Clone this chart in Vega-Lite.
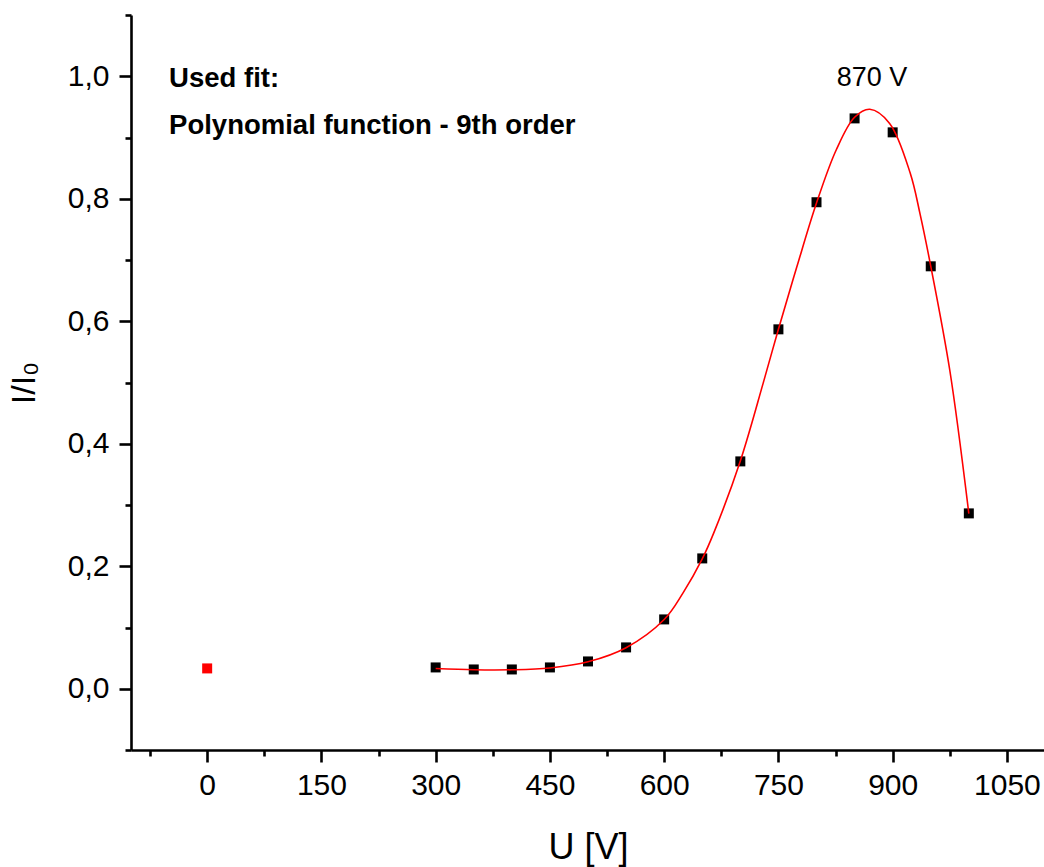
{
  "$schema": "https://vega.github.io/schema/vega-lite/v6.json",
  "autosize": {"type": "none"},
  "padding": {"left": 131, "top": 15, "right": 0, "bottom": 117},
  "width": 914,
  "height": 735,
  "background": "white",
  "config": {
    "view": {"stroke": null},
    "font": "Liberation Sans",
    "axis": {
      "domainColor": "black",
      "domainWidth": 2.6,
      "tickColor": "black",
      "tickWidth": 2.6,
      "grid": false,
      "labelFont": "Liberation Sans",
      "labelFontSize": 30,
      "labelColor": "black",
      "titleFont": "Liberation Sans",
      "titleFontWeight": "normal",
      "titleColor": "black"
    }
  },
  "datasets": {
    "measured": [
      {"U": 0, "ratio": 0.0332, "group": "excluded"},
      {"U": 300, "ratio": 0.0348, "group": "measured"},
      {"U": 350, "ratio": 0.0315, "group": "measured"},
      {"U": 400, "ratio": 0.0315, "group": "measured"},
      {"U": 450, "ratio": 0.0348, "group": "measured"},
      {"U": 500, "ratio": 0.0446, "group": "measured"},
      {"U": 550, "ratio": 0.0675, "group": "measured"},
      {"U": 600, "ratio": 0.1132, "group": "measured"},
      {"U": 650, "ratio": 0.2128, "group": "measured"},
      {"U": 700, "ratio": 0.3712, "group": "measured"},
      {"U": 750, "ratio": 0.5868, "group": "measured"},
      {"U": 800, "ratio": 0.7943, "group": "measured"},
      {"U": 850, "ratio": 0.9312, "group": "measured"},
      {"U": 900, "ratio": 0.9084, "group": "measured"},
      {"U": 950, "ratio": 0.6897, "group": "measured"},
      {"U": 1000, "ratio": 0.2863, "group": "measured"}
    ],
    "fit": [
      {"U": 300, "ratio": 0.033},
      {"U": 350, "ratio": 0.031},
      {"U": 400, "ratio": 0.031},
      {"U": 450, "ratio": 0.034},
      {"U": 500, "ratio": 0.044},
      {"U": 550, "ratio": 0.067},
      {"U": 600, "ratio": 0.113},
      {"U": 625, "ratio": 0.157},
      {"U": 650, "ratio": 0.212},
      {"U": 665, "ratio": 0.254},
      {"U": 700, "ratio": 0.372},
      {"U": 730, "ratio": 0.499},
      {"U": 750, "ratio": 0.587},
      {"U": 774, "ratio": 0.688},
      {"U": 800, "ratio": 0.793},
      {"U": 826, "ratio": 0.880},
      {"U": 850, "ratio": 0.933},
      {"U": 870, "ratio": 0.946},
      {"U": 896, "ratio": 0.923},
      {"U": 923, "ratio": 0.842},
      {"U": 936, "ratio": 0.775},
      {"U": 950, "ratio": 0.690},
      {"U": 975, "ratio": 0.520},
      {"U": 1000, "ratio": 0.286}
    ]
  },
  "layer": [
    {
      "data": {"name": "measured"},
      "mark": {"type": "point", "shape": "square", "filled": true, "opacity": 1, "size": 100},
      "encoding": {
        "x": {
          "field": "U", "type": "quantitative",
          "scale": {"domain": [-100, 1100], "nice": false, "zero": false},
          "axis": {
            "title": "U [V]",
            "titleFontSize": 36,
            "titlePadding": 30,
            "values": [-75, 0, 75, 150, 225, 300, 375, 450, 525, 600, 675, 750, 825, 900, 975, 1050],
            "labelExpr": "datum.value % 150 === 0 ? format(datum.value, 'd') : ''",
            "tickSize": {"condition": {"test": "datum.value % 150 !== 0", "value": 6}, "value": 12},
            "labelPadding": 8,
            "labelFlush": false,
            "labelOverlap": false
          }
        },
        "y": {
          "field": "ratio", "type": "quantitative",
          "scale": {"domain": [-0.1, 1.1], "nice": false, "zero": false},
          "axis": {
            "title": "I/I₀",
            "titleFontSize": 34,
            "titlePadding": 26,
            "values": [-0.1, 0, 0.1, 0.2, 0.3, 0.4, 0.5, 0.6, 0.7, 0.8, 0.9, 1.0, 1.1],
            "labelExpr": "abs(round(datum.value * 10)) % 2 === 1 ? '' : replace(format(datum.value, '.1f'), '.', ',')",
            "tickSize": {"condition": {"test": "abs(round(datum.value * 10)) % 2 === 1", "value": 6}, "value": 12},
            "labelPadding": 10,
            "labelFlush": false,
            "labelOverlap": false
          }
        },
        "color": {
          "field": "group", "type": "nominal",
          "scale": {"domain": ["excluded", "measured"], "range": ["#ff0000", "#000000"]},
          "legend": null
        }
      }
    },
    {
      "data": {"name": "fit"},
      "mark": {"type": "line", "color": "#ff0000", "strokeWidth": 1.6, "interpolate": "catmull-rom"},
      "encoding": {
        "x": {"field": "U", "type": "quantitative"},
        "y": {"field": "ratio", "type": "quantitative"}
      }
    },
    {
      "data": {"values": [{}]},
      "mark": {"type": "text", "align": "left", "baseline": "alphabetic", "fontSize": 27.5, "fontWeight": "bold", "font": "Liberation Sans", "color": "black"},
      "encoding": {
        "x": {"datum": -50, "type": "quantitative"},
        "y": {"datum": 0.982, "type": "quantitative"},
        "text": {"value": "Used fit:"}
      }
    },
    {
      "data": {"values": [{}]},
      "mark": {"type": "text", "align": "left", "baseline": "alphabetic", "fontSize": 27.5, "fontWeight": "bold", "font": "Liberation Sans", "color": "black"},
      "encoding": {
        "x": {"datum": -50, "type": "quantitative"},
        "y": {"datum": 0.905, "type": "quantitative"},
        "text": {"value": "Polynomial function - 9th order"}
      }
    },
    {
      "data": {"values": [{}]},
      "mark": {"type": "text", "align": "center", "baseline": "alphabetic", "fontSize": 27, "font": "Liberation Sans", "color": "black"},
      "encoding": {
        "x": {"datum": 873, "type": "quantitative"},
        "y": {"datum": 0.984, "type": "quantitative"},
        "text": {"value": "870 V"}
      }
    }
  ]
}
